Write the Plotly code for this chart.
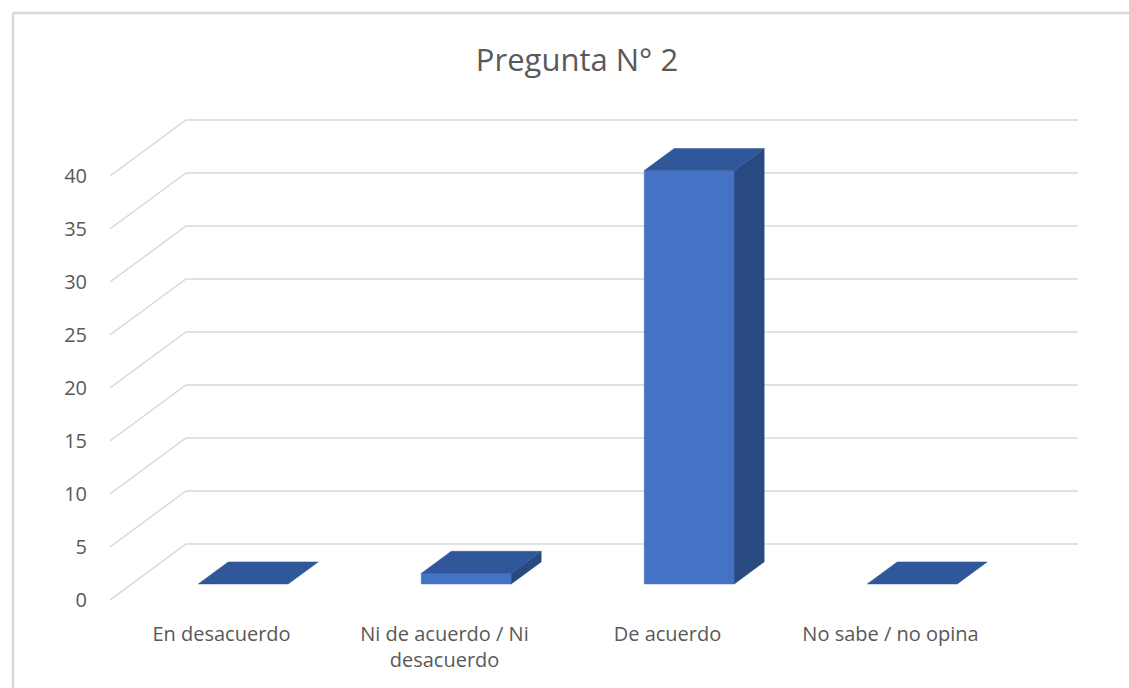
import plotly.graph_objects as go

# ---- data ----
categories = ["En desacuerdo", "Ni de acuerdo / Ni desacuerdo", "De acuerdo", "No sabe / no opina"]
tick_labels = ["En desacuerdo", "Ni de acuerdo / Ni<br>desacuerdo", "De acuerdo", "No sabe / no opina"]
values = [0, 1, 39, 0]
y_ticks = [0, 5, 10, 15, 20, 25, 30, 35, 40]
title_text = "Pregunta N° 2"

# ---- layout geometry (pixels) ----
W, H = 1129, 688
PL, PR = 110, 1078      # plot area left/right
PB, PT = 600, 118       # plot area bottom/top
DXP, DYP = 76, 56       # 3D depth offset of back wall
PPU = 10.6              # pixels per value unit
CAT_PX = (PR - DXP - PL) / len(categories)

x_range = [-0.5, -0.5 + (PR - PL) / CAT_PX]
y_range = [0, (PB - PT) / PPU]
DX = DXP / CAT_PX
DY = DYP / PPU
F0, F1 = 0.286, 0.68    # bar depth start/end (fraction of full depth)
HALF = 45 / CAT_PX      # half bar width

TEXT = "#595959"
GRID = "#D9D9D9"
FRONT = "#4472C4"
TOP = "#30579A"
SIDE = "#294A80"
FONT = "Open Sans"

fig = go.Figure()

# gridlines: front diagonal + back wall line
gx, gy = [], []
for v in y_ticks:
    gx += [x_range[0], x_range[0] + DX, x_range[1], None]
    gy += [v, v + DY, v + DY, None]
fig.add_trace(go.Scatter(x=gx, y=gy, mode="lines", line=dict(color=GRID, width=1.5),
                         hoverinfo="skip", showlegend=False, cliponaxis=False))

xs = list(range(len(categories)))


def poly(px_, py_, color):
    fig.add_trace(go.Scatter(x=px_ + [px_[0]], y=py_ + [py_[0]], mode="lines", fill="toself",
                             fillcolor=color, line=dict(color=color, width=0.5),
                             hoverinfo="skip", showlegend=False))


for i, v in zip(xs, values):
    xl0, xr0 = i - HALF + F0 * DX, i + HALF + F0 * DX
    xl1, xr1 = i - HALF + F1 * DX, i + HALF + F1 * DX
    b0, b1 = F0 * DY, F1 * DY
    # front face
    if v > 0:
        poly([xl0, xr0, xr0, xl0], [b0, b0, v + b0, v + b0], FRONT)
        # side face
        poly([xr0, xr1, xr1, xr0], [b0, b1, v + b1, v + b0], SIDE)
    # top face
    poly([xl0, xr0, xr1, xl1], [v + b0, v + b0, v + b1, v + b1], TOP)


def px_x(p):
    return (p - PL) / (PR - PL)


def px_y(p):
    return (PB - p) / (PB - PT)


fig.update_layout(
    width=W, height=H,
    margin=dict(l=PL, r=W - PR, t=PT, b=H - PB),
    paper_bgcolor="white", plot_bgcolor="white",
    font=dict(family=FONT, color=TEXT, size=20),
    title=dict(text=title_text, x=577 / W, xref="container", xanchor="center",
               y=1 - 60 / H, yref="container", yanchor="middle",
               font=dict(size=31, color=TEXT, family=FONT)),
    xaxis=dict(range=x_range, tickvals=xs, ticktext=tick_labels, showgrid=False,
               zeroline=False, showline=False, ticks="outside", ticklen=16,
               tickcolor="rgba(0,0,0,0)", tickfont=dict(size=20, color=TEXT), fixedrange=True),
    yaxis=dict(range=y_range, tickvals=y_ticks, showgrid=False, zeroline=False,
               showline=False, ticks="outside", ticklen=18, tickcolor="rgba(0,0,0,0)",
               tickfont=dict(size=20, color=TEXT), fixedrange=True),
    shapes=[
        dict(type="line", xref="paper", yref="paper", x0=px_x(13), y0=px_y(H + 5),
             x1=px_x(13), y1=px_y(13), line=dict(color=GRID, width=2.5)),
        dict(type="line", xref="paper", yref="paper", x0=px_x(13), y0=px_y(13),
             x1=px_x(W + 5), y1=px_y(13), line=dict(color=GRID, width=2.5)),
    ],
)

fig.write_html("out.html")
